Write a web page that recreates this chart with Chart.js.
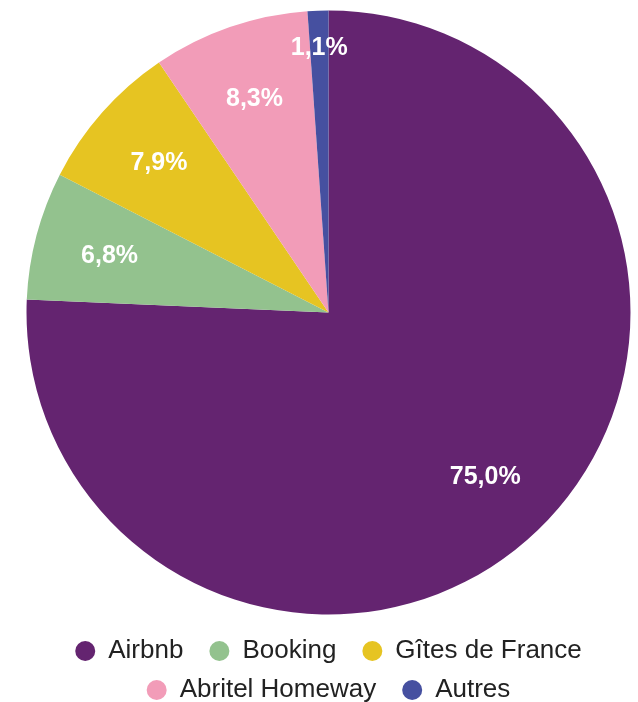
<!DOCTYPE html>
<html><head><meta charset="utf-8">
<script src="https://cdn.jsdelivr.net/npm/chart.js@4"></script>
<style>html,body{margin:0;padding:0;background:#fff}#wrap{width:638px;height:702px;position:relative}</style>
</head><body><div id="wrap"><canvas id="c"></canvas></div>
<script>
const categories = ["Airbnb", "Booking", "Gîtes de France", "Abritel Homeway", "Autres"];
const values = [75.0, 6.8, 7.9, 8.3, 1.1];
const valueLabels = ["75,0%", "6,8%", "7,9%", "8,3%", "1,1%"];
const colors = ["#642470", "#93C28E", "#E6C422", "#F29CB8", "#4650A0"];

const LEGEND_FONT = '"Liberation Sans", Arial, sans-serif';
const LEGEND_SIZE = 26;
const GAP = '\u2002';

const labelPlugin = {
  id: 'sliceLabels',
  afterDatasetsDraw(chart) {
    const ctx = chart.ctx;
    const meta = chart.getDatasetMeta(0);
    ctx.save();
    ctx.font = 'bold 25px "Liberation Sans", Arial, sans-serif';
    ctx.fillStyle = '#fff';
    ctx.textAlign = 'center';
    ctx.textBaseline = 'middle';
    meta.data.forEach((arc, i) => {
      const p = arc.getProps(['x','y','startAngle','endAngle','outerRadius'], true);
      const mid = (p.startAngle + p.endAngle) / 2;
      const frac = (p.endAngle - p.startAngle) / (2*Math.PI);
      const f = frac < 0.03 ? 0.88 : 0.75;
      const r = p.outerRadius * f;
      ctx.fillText(valueLabels[i], p.x + Math.cos(mid)*r, p.y + Math.sin(mid)*r + 1);
    });
    ctx.restore();
  }
};

// trailing gap in each legend label widens spacing between items; remove it from row centering
const legendFix = {
  id: 'legendFix',
  afterLayout(chart) {
    const lg = chart.legend;
    if (!lg || !lg.lineWidths) return;
    const ctx = chart.ctx;
    ctx.save();
    ctx.font = LEGEND_SIZE + 'px ' + LEGEND_FONT;
    const w = ctx.measureText(GAP).width;
    ctx.restore();
    lg.lineWidths = lg.lineWidths.map(v => v - w);
  }
};

new Chart(document.getElementById('c'), {
  type: 'pie',
  data: { labels: categories, datasets: [{ data: values, backgroundColor: colors, borderWidth: 0, radius: 302 }] },
  options: {
    responsive: true, maintainAspectRatio: false, animation: false,
    layout: { padding: { top: -3, left: 19, right: 0, bottom: -11 } },
    plugins: {
      tooltip: { enabled: false },
      legend: {
        position: 'bottom',
        labels: {
          usePointStyle: true, pointStyle: 'circle', boxWidth: 20, boxHeight: 14.14,
          padding: 13, color: '#222',
          font: { family: LEGEND_FONT, size: LEGEND_SIZE },
          generateLabels(chart) {
            const items = Chart.overrides.pie.plugins.legend.labels.generateLabels(chart);
            items.forEach(it => { it.text = it.text + GAP; it.lineWidth = 0; });
            return items;
          }
        }
      }
    }
  },
  plugins: [labelPlugin, legendFix]
});
</script></body></html>
